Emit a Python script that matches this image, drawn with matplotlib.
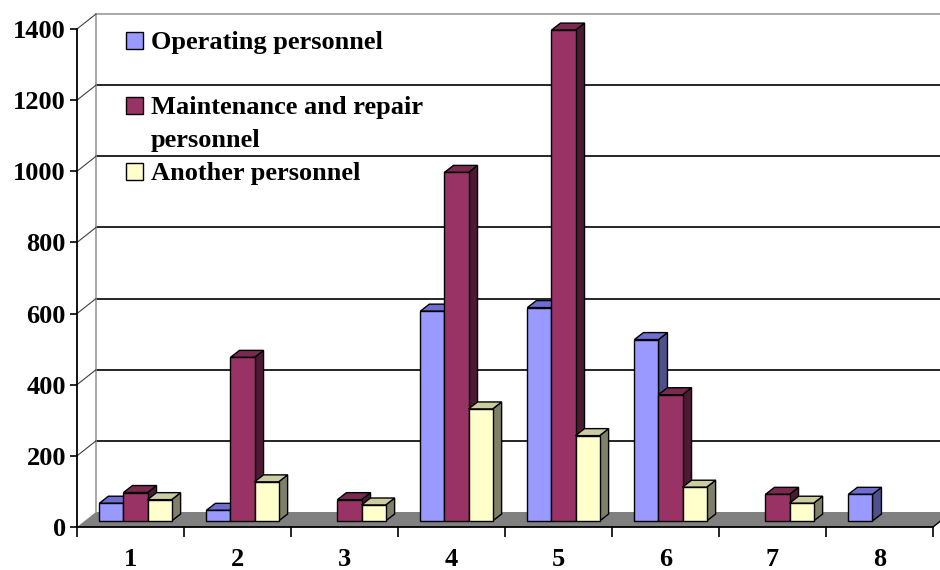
import numpy as np
import matplotlib
matplotlib.use('Agg')
import matplotlib.pyplot as plt
from matplotlib.patches import Polygon, Rectangle
from matplotlib.lines import Line2D
from matplotlib.transforms import IdentityTransform

# personnel counts per object (1..8)
categories  = [1, 2, 3, 4, 5, 6, 7, 8]
operating   = [50, 30, 0, 590, 600, 510, 0, 75]
maintenance = [80, 460, 60, 980, 1380, 355, 75, 0]
another     = [60, 110, 45, 315, 240, 95, 50, 0]
series      = [operating, maintenance, another]
names       = ['Operating personnel', 'Maintenance and repair\npersonnel', 'Another personnel']
yticks      = [0, 200, 400, 600, 800, 1000, 1200, 1400]

# (front, top, side) shades for each series
shades = [('#9999ff', '#6e6ed2', '#50508c'),
          ('#993366', '#7a2950', '#4d1a33'),
          ('#ffffcc', '#cccca3', '#80806a')]

plt.rcParams['font.family'] = ['Liberation Serif', 'DejaVu Serif']
plt.rcParams['font.weight'] = 'bold'

W, H = 940, 570
fig = plt.figure(figsize=(W / 100, H / 100), dpi=100)
ax = fig.add_axes([77 / W, 43 / H, 856 / W, 498 / H])
ax.set_xlim(0.5, 8.5)
ax.set_ylim(0, 1400)
ax.patch.set_visible(False)

# pixel offsets for the fake 3d look
wall = np.array([19, 15])     # back wall / floor depth
bar_off = np.array([5, 6])    # front face of the bars
depth = np.array([9, 7])      # bar thickness

def disp(x, y, off=(0, 0)):
    return ax.transData.transform((x, y)) + np.asarray(off)

def poly(pts, fc, z, ec='black', lw=1.0):
    p = Polygon(pts, closed=True, facecolor=fc, edgecolor=ec, lw=lw,
                transform=IdentityTransform(), clip_on=False, zorder=z)
    ax.add_patch(p)

def seg(p0, p1, color, lw, z=1):
    ax.add_line(Line2D([p0[0], p1[0]], [p0[1], p1[1]], color=color, lw=lw,
                       transform=IdentityTransform(), clip_on=False, zorder=z))

# floor
x0, x1 = 0.5, 8.5
poly([disp(x0, 0), disp(x1, 0), disp(x1, 0, wall), disp(x0, 0, wall)],
     '#808080', 0.5, ec='none')
seg(disp(x1, 0), disp(x1, 0, wall), 'black', 1.0)

# back wall gridlines and left wall edges
for v in yticks[1:-1]:
    seg(disp(x0, v, wall), disp(x1, v, wall), 'black', 1.2)
seg(disp(x0, 1400, wall), disp(x1, 1400, wall), '#9a9a9a', 1.2)
seg(disp(x0, 0, wall), disp(x0, 1400, wall), '#9a9a9a', 1.2)
for v in yticks[1:]:
    seg(disp(x0, v), disp(x0, v, wall), '#404040', 0.8)

# bars: side, top, front, left to right so the next bar hides the side
w = 0.225
for i, c in enumerate(categories):
    for j, vals in enumerate(series):
        v = vals[i]
        if v == 0:
            continue
        front, top, side = shades[j]
        bx = c - 1.5 * w + j * w
        a = disp(bx, 0, bar_off)
        b = disp(bx + w, 0, bar_off)
        cc = disp(bx + w, v, bar_off)
        d = disp(bx, v, bar_off)
        poly([b, cc, cc + depth, b + depth], side, 3)
        poly([d, cc, cc + depth, d + depth], top, 3)
        poly([a, b, cc, d], front, 3)

# front axes
for s in ['top', 'right']:
    ax.spines[s].set_visible(False)
for s in ['left', 'bottom']:
    ax.spines[s].set_linewidth(1.3)
    ax.spines[s].set_zorder(4)
ax.set_yticks(yticks)
ax.set_xticks(categories)
ax.set_xticks(np.arange(0.5, 9, 1), minor=True)
ax.tick_params(axis='y', direction='out', length=5, width=1.2, pad=3, labelsize=19)
ax.tick_params(axis='x', which='major', length=0, pad=15, labelsize=19)
ax.tick_params(axis='x', which='minor', direction='out', length=7, width=1.2)

# legend
def fig_xy(x, y):
    return x / W, 1 - y / H

baselines = [49, 114, 180]
for j, name in enumerate(names):
    fc = shades[j][0]
    bx, by = fig_xy(126, baselines[j])
    fig.add_artist(Rectangle((bx, by), 17 / W, 17 / H, facecolor=fc,
                             edgecolor='black', lw=1.0, transform=fig.transFigure))
    for k, line in enumerate(name.split('\n')):
        tx, ty = fig_xy(151, baselines[j] + 33 * k)
        fig.text(tx, ty, line, fontsize=19, fontweight='bold', va='baseline', ha='left')

fig.savefig('out.png', dpi=100)
